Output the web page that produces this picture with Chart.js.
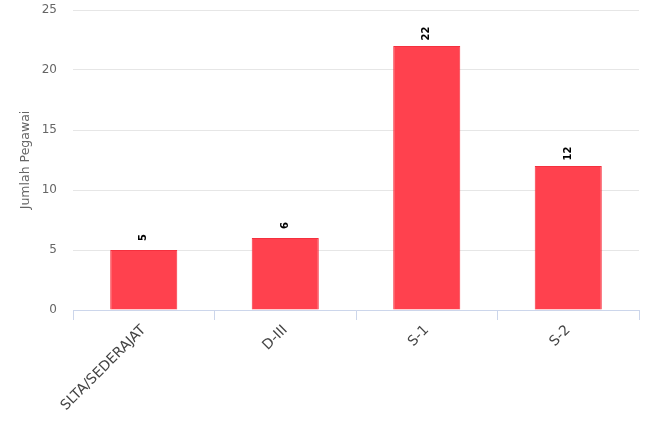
<!DOCTYPE html>
<html>
<head>
<meta charset="utf-8">
<script src="https://cdn.jsdelivr.net/npm/chart.js@4"></script>
<style>
  html, body { margin: 0; padding: 0; background: #fff; }
  #wrap { width: 650px; height: 433px; }
</style>
</head>
<body>
<div id="wrap"><canvas id="pegawaiChart" width="650" height="433"></canvas></div>
<script>
const categories = ['SLTA/SEDERAJAT', 'D-III', 'S-1', 'S-2'];
const jumlahPegawai = [5, 6, 22, 12];
const yTicks = [0, 5, 10, 15, 20, 25];

// value labels above bars, rotated upward
const barLabels = {
  id: 'barLabels',
  afterDatasetsDraw(chart) {
    const { ctx } = chart;
    const meta = chart.getDatasetMeta(0);
    ctx.save();
    ctx.font = 'bold 10px "DejaVu Sans", sans-serif';
    ctx.fillStyle = '#000';
    ctx.textAlign = 'center';
    ctx.textBaseline = 'middle';
    meta.data.forEach((bar, i) => {
      ctx.save();
      ctx.translate(bar.x, bar.y - 12.5);
      ctx.rotate(-Math.PI / 2);
      ctx.fillText(String(jumlahPegawai[i]), 0, 0);
      ctx.restore();
    });
    ctx.restore();
  }
};

const ctx = document.getElementById('pegawaiChart').getContext('2d');

new Chart(ctx, {
  type: 'bar',
  data: {
    labels: categories,
    datasets: [{
      label: 'Jumlah Pegawai',
      data: jumlahPegawai,
      backgroundColor: '#ff414e',
      borderColor: '#f5303e',
      borderWidth: 1,
      categoryPercentage: 1,
      barPercentage: 0.474
    }]
  },
  options: {
    responsive: false,
    animation: false,
    layout: { padding: { top: 10, right: 11, left: 0, bottom: 0 } },
    plugins: {
      legend: { display: false },
      tooltip: { enabled: false }
    },
    scales: {
      x: {
        afterFit: s => { s.height = 123; },
        grid: {
          offset: true,
          drawOnChartArea: false,
          drawTicks: true,
          tickLength: 10,
          color: '#ccd6eb'
        },
        border: { color: '#ccd6eb' },
        ticks: {
          minRotation: 45,
          maxRotation: 45,
          padding: 2,
          color: '#444',
          font: { family: '"DejaVu Sans", sans-serif', size: 14 }
        }
      },
      y: {
        min: 0,
        max: 25,
        afterFit: s => { s.width = 73; s.paddingTop = 0; s.paddingBottom = 0; },
        afterBuildTicks: s => { s.ticks = yTicks.map(v => ({ value: v })); },
        grid: { color: '#e6e6e6', drawTicks: false },
        border: { display: false },
        ticks: {
          padding: 16,
          color: '#666',
          font: { family: '"DejaVu Sans", sans-serif', size: 12 }
        },
        title: {
          display: true,
          text: 'Jumlah Pegawai',
          color: '#666',
          padding: { top: 18, bottom: 0 },
          font: { family: '"DejaVu Sans", sans-serif', size: 12.5 }
        }
      }
    }
  },
  plugins: [barLabels]
});
</script>
</body>
</html>
